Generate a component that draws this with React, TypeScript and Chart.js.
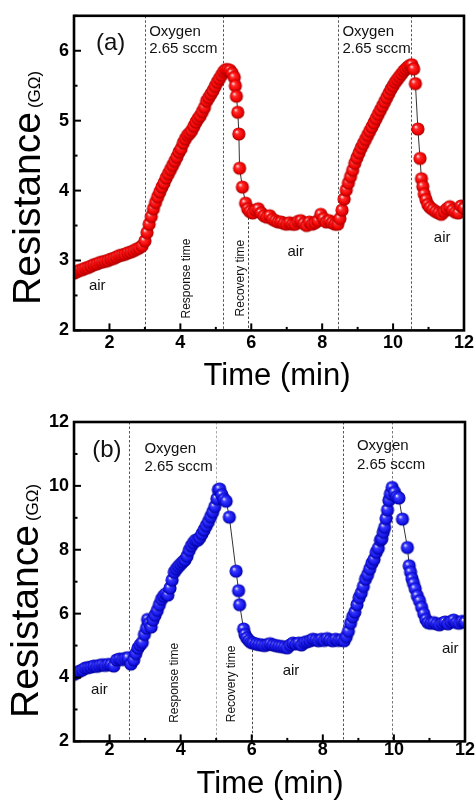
import React, { useEffect, useRef } from 'react';
import { Chart, registerables } from 'chart.js';

Chart.register(...registerables);

const FONT = '"Liberation Sans", Arial, Helvetica, sans-serif';

// ---------- Panel (a) data : time (min) / resistance (GOhm) ----------
const timeA = [
  1.00, 1.08, 1.16, 1.24, 1.32, 1.40, 1.48, 1.56, 1.64, 1.72, 1.80, 1.88, 1.96, 2.04, 2.12, 2.20, 2.28, 2.36, 2.44, 2.52, 2.60, 2.68, 2.76, 2.84, 2.92,
  3.00, 3.06, 3.12, 3.18, 3.24, 3.30, 3.36, 3.42, 3.48, 3.54, 3.60, 3.66, 3.72, 3.78, 3.84, 3.90, 3.96, 4.02, 4.08, 4.14, 4.20, 4.26, 4.32, 4.38, 4.44, 4.50, 4.56, 4.62, 4.68, 4.74, 4.80, 4.86, 4.92, 4.98, 5.04, 5.10, 5.16, 5.22, 5.28, 5.34,
  5.40, 5.46, 5.52, 5.55, 5.58, 5.62, 5.65, 5.67, 5.75, 5.84, 5.90,
  5.96, 6.04, 6.12, 6.20, 6.28, 6.36, 6.44, 6.52, 6.60, 6.68, 6.76, 6.84, 6.92, 7.00, 7.08, 7.16, 7.24, 7.32, 7.40, 7.48, 7.56, 7.64, 7.72, 7.80, 7.88, 7.96, 8.04, 8.12, 8.20, 8.28, 8.36, 8.44,
  8.50, 8.56, 8.62, 8.68, 8.74, 8.80, 8.86, 8.92, 8.98, 9.04, 9.10, 9.16, 9.22, 9.28, 9.34, 9.40, 9.46, 9.52, 9.58, 9.64, 9.70, 9.76, 9.82, 9.88, 9.94, 10.00, 10.06, 10.12, 10.18, 10.24, 10.30, 10.36, 10.42, 10.48, 10.53,
  10.58, 10.63, 10.70, 10.76, 10.80, 10.84, 10.88, 10.93, 10.98,
  11.04, 11.12, 11.20, 11.28, 11.36, 11.44, 11.52, 11.60, 11.68, 11.76, 11.84, 11.92, 12.00,
];
const resistanceA = [
  2.82, 2.84, 2.86, 2.87, 2.89, 2.90, 2.92, 2.94, 2.95, 2.97, 2.98, 2.99, 3.00, 3.02, 3.03, 3.05, 3.07, 3.08, 3.09, 3.11, 3.12, 3.14, 3.16, 3.18, 3.21,
  3.28, 3.40, 3.52, 3.63, 3.74, 3.83, 3.91, 3.98, 4.05, 4.11, 4.18, 4.24, 4.30, 4.36, 4.42, 4.48, 4.55, 4.60, 4.68, 4.74, 4.79, 4.82, 4.86, 4.92, 4.98, 5.03, 5.07, 5.13, 5.19, 5.28, 5.33, 5.38, 5.43, 5.49, 5.55, 5.60, 5.65, 5.70, 5.73, 5.73,
  5.72, 5.68, 5.62, 5.50, 5.35, 5.12, 4.81, 4.32, 4.05, 3.82, 3.74,
  3.70, 3.68, 3.72, 3.74, 3.68, 3.64, 3.62, 3.64, 3.59, 3.57, 3.55, 3.55, 3.53, 3.52, 3.54, 3.52, 3.52, 3.56, 3.57, 3.53, 3.50, 3.55, 3.52, 3.54, 3.57, 3.66, 3.60, 3.55, 3.57, 3.54, 3.52, 3.52,
  3.60, 3.72, 3.88, 4.01, 4.11, 4.20, 4.29, 4.39, 4.47, 4.54, 4.61, 4.67, 4.73, 4.79, 4.85, 4.91, 4.97, 5.03, 5.09, 5.15, 5.21, 5.27, 5.33, 5.39, 5.45, 5.50, 5.55, 5.59, 5.63, 5.67, 5.71, 5.74, 5.77, 5.79, 5.80,
  5.74, 5.53, 4.88, 4.46, 4.17, 4.06, 3.95, 3.87, 3.80,
  3.76, 3.73, 3.70, 3.68, 3.66, 3.70, 3.74, 3.77, 3.72, 3.69, 3.68, 3.78, 3.75,
];

// ---------- Panel (b) data ----------
const timeB = [
  1.00, 1.08, 1.16, 1.24, 1.32, 1.40, 1.48, 1.56, 1.64, 1.72, 1.80, 1.88, 1.96, 2.04, 2.12, 2.20, 2.28, 2.36, 2.44, 2.52, 2.60,
  2.68, 2.74, 2.80, 2.86, 2.92, 2.98, 3.04, 3.07, 3.12, 3.17, 3.22, 3.28, 3.34, 3.40, 3.46, 3.52, 3.58, 3.64, 3.70, 3.76, 3.82, 3.88, 3.94, 4.00, 4.06, 4.12, 4.18, 4.24, 4.30, 4.36, 4.42, 4.48, 4.54, 4.60, 4.66, 4.72, 4.78, 4.84, 4.90, 4.96, 5.02, 5.06, 5.10, 5.16, 5.22, 5.28, 5.37,
  5.56, 5.63, 5.66, 5.77, 5.81, 5.86, 5.92, 5.98,
  6.04, 6.12, 6.20, 6.28, 6.36, 6.44, 6.52, 6.60, 6.68, 6.76, 6.84, 6.92, 7.00, 7.08, 7.16, 7.24, 7.32, 7.40, 7.48, 7.56, 7.64, 7.72, 7.80, 7.88, 7.96, 8.04, 8.12, 8.20, 8.28, 8.36, 8.44, 8.52, 8.60,
  8.66, 8.72, 8.78, 8.84, 8.90, 8.96, 9.02, 9.08, 9.14, 9.20, 9.26, 9.32, 9.38, 9.44, 9.50, 9.56, 9.62, 9.66, 9.70, 9.74, 9.78, 9.82, 9.86, 9.90, 9.95,
  10.02, 10.08, 10.14, 10.24, 10.38, 10.43, 10.47, 10.51, 10.55, 10.60, 10.66, 10.72, 10.78, 10.84, 10.90, 10.96,
  11.04, 11.12, 11.20, 11.28, 11.36, 11.44, 11.52, 11.60, 11.68, 11.76, 11.84, 11.92, 12.00,
];
const resistanceB = [
  4.10, 4.15, 4.20, 4.24, 4.30, 4.31, 4.33, 4.36, 4.35, 4.38, 4.40, 4.38, 4.41, 4.40, 4.36, 4.55, 4.58, 4.56, 4.60, 4.62, 4.42,
  4.55, 4.75, 4.92, 5.02, 5.10, 5.35, 5.55, 5.82, 5.70, 5.58, 5.80, 5.95, 6.10, 6.28, 6.45, 6.55, 6.62, 6.58, 6.80, 7.05, 7.30, 7.40, 7.48, 7.55, 7.62, 7.68, 7.80, 7.98, 8.12, 8.22, 8.30, 8.30, 8.38, 8.50, 8.62, 8.75, 8.88, 9.03, 9.18, 9.35, 9.60, 9.88, 9.90, 9.72, 9.58, 9.52, 9.02,
  7.33, 6.72, 6.28, 5.52, 5.35, 5.24, 5.16, 5.10,
  5.08, 5.05, 5.03, 5.02, 5.00, 5.03, 5.06, 5.02, 5.00, 4.98, 4.97, 4.95, 4.93, 5.02, 5.08, 5.05, 5.08, 5.02, 5.10, 5.12, 5.15, 5.20, 5.18, 5.15, 5.20, 5.16, 5.22, 5.18, 5.15, 5.20, 5.16, 5.18, 5.15,
  5.28, 5.45, 5.70, 5.90, 6.05, 6.28, 6.50, 6.65, 6.85, 7.08, 7.22, 7.40, 7.58, 7.70, 7.92, 8.05, 8.30, 8.35, 8.55, 8.70, 8.98, 9.25, 9.55, 9.75, 9.95,
  9.80, 9.66, 9.62, 8.96, 8.07, 7.50, 7.30, 7.10, 6.95, 6.78, 6.56, 6.40, 6.20, 6.00, 5.82, 5.72,
  5.70, 5.72, 5.68, 5.65, 5.70, 5.74, 5.68, 5.75, 5.80, 5.72, 5.70, 5.76, 5.74,
];

// ---------- Tick labels ----------
const xTickLabels = [2, 4, 6, 8, 10, 12];
const yTickLabelsA = [2, 3, 4, 5, 6];
const yTickLabelsB = [2, 4, 6, 8, 10, 12];

// ---------- Gas switching times (min) ----------
const gasSwitchA = [3.0, 5.2, 8.45, 10.5];
const gasSwitchB = [2.55, 5.0, 8.58, 9.95];
const recoveryEndA = [5.9, 3.68];
const recoveryEndB = [6.0, 4.87];

type Note = { text: string; x: number; y: number; size: number; rot?: boolean };

const notesA: Note[] = [
  { text: '(a)', x: 1.62, y: 6.1, size: 24 },
  { text: 'Oxygen', x: 3.12, y: 6.27, size: 15 },
  { text: '2.65 sccm', x: 3.12, y: 6.02, size: 15 },
  { text: 'Oxygen', x: 8.57, y: 6.27, size: 15 },
  { text: '2.65 sccm', x: 8.57, y: 6.02, size: 15 },
  { text: 'air', x: 1.42, y: 2.64, size: 15 },
  { text: 'Response time', x: 4.18, y: 2.17, size: 12, rot: true },
  { text: 'Recovery time', x: 5.7, y: 2.2, size: 12, rot: true },
  { text: 'air', x: 7.02, y: 3.13, size: 15 },
  { text: 'air', x: 11.15, y: 3.32, size: 15 },
];
const notesB: Note[] = [
  { text: '(b)', x: 1.51, y: 11.12, size: 24 },
  { text: 'Oxygen', x: 2.98, y: 11.17, size: 15 },
  { text: '2.65 sccm', x: 2.98, y: 10.59, size: 15 },
  { text: 'Oxygen', x: 8.96, y: 11.24, size: 15 },
  { text: '2.65 sccm', x: 8.96, y: 10.67, size: 15 },
  { text: 'air', x: 1.48, y: 3.6, size: 15 },
  { text: 'Response time', x: 3.84, y: 2.58, size: 12, rot: true },
  { text: 'Recovery time', x: 5.44, y: 2.6, size: 12, rot: true },
  { text: 'air', x: 6.87, y: 4.2, size: 15 },
  { text: 'air', x: 11.35, y: 4.89, size: 15 },
];

type Spec = {
  times: number[];
  values: number[];
  yMin: number;
  yMax: number;
  yStep: number;
  yLabels: number[];
  switches: number[];
  switchColors: string[];
  recovery: number[];
  notes: Note[];
  colors: [string, string, string, string];
  height: number;
  padding: { left: number; right: number; top: number; bottom: number };
  xTickPad: number;
  yTitle: { x: number; y: number };
  xTitle: { x: number; y: number };
};

function makeSphere(colors: [string, string, string, string]) {
  const size = 16;
  const c = document.createElement('canvas');
  c.width = size;
  c.height = size;
  const g = c.getContext('2d')!;
  const cx = size / 2;
  const cy = size / 2;
  const r = 6.6;
  const grad = g.createRadialGradient(cx - 2.4, cy - 2.4, 0.2, cx, cy, r);
  grad.addColorStop(0, colors[0]);
  grad.addColorStop(0.3, colors[1]);
  grad.addColorStop(0.78, colors[2]);
  grad.addColorStop(1, colors[3]);
  g.fillStyle = grad;
  g.beginPath();
  g.arc(cx, cy, r, 0, Math.PI * 2);
  g.fill();
  return c;
}

function decorPlugin(spec: Spec) {
  return {
    id: 'decor',
    beforeDatasetsDraw(chart: any) {
      const { ctx, chartArea: a, scales } = chart;
      const xs = scales.x;
      const ys = scales.y;
      ctx.save();
      ctx.lineWidth = 1;
      ctx.setLineDash([2.5, 2]);
      spec.switches.forEach((t, i) => {
        const px = Math.round(xs.getPixelForValue(t)) + 0.5;
        ctx.strokeStyle = spec.switchColors[i];
        ctx.beginPath();
        ctx.moveTo(px, a.top);
        ctx.lineTo(px, a.bottom);
        ctx.stroke();
      });
      const rx = Math.round(xs.getPixelForValue(spec.recovery[0])) + 0.5;
      ctx.strokeStyle = '#444';
      ctx.beginPath();
      ctx.moveTo(rx, ys.getPixelForValue(spec.recovery[1]));
      ctx.lineTo(rx, a.bottom);
      ctx.stroke();
      ctx.setLineDash([]);
      ctx.fillStyle = '#111';
      ctx.textAlign = 'left';
      ctx.textBaseline = 'middle';
      spec.notes.forEach((n) => {
        ctx.font = `${n.size}px ${FONT}`;
        const px = xs.getPixelForValue(n.x);
        const py = ys.getPixelForValue(n.y);
        if (n.rot) {
          ctx.save();
          ctx.translate(px, py);
          ctx.rotate(-Math.PI / 2);
          ctx.fillText(n.text, 0, 0);
          ctx.restore();
        } else {
          ctx.fillText(n.text, px, py);
        }
      });
      ctx.restore();
    },
    afterDatasetsDraw(chart: any) {
      const { ctx, chartArea: a, scales } = chart;
      ctx.save();
      ctx.strokeStyle = '#000';
      ctx.lineWidth = 2;
      scales.x.ticks.forEach((t: any) => {
        const px = scales.x.getPixelForValue(t.value);
        const len = t.label ? 7 : 3.5;
        ctx.beginPath();
        ctx.moveTo(px, a.bottom);
        ctx.lineTo(px, a.bottom - len);
        ctx.stroke();
      });
      scales.y.ticks.forEach((t: any) => {
        const py = scales.y.getPixelForValue(t.value);
        const len = t.label ? 7 : 3.5;
        ctx.beginPath();
        ctx.moveTo(a.left, py);
        ctx.lineTo(a.left + len, py);
        ctx.stroke();
      });
      ctx.lineWidth = 2.6;
      ctx.strokeRect(a.left, a.top, a.right - a.left, a.bottom - a.top);
      ctx.restore();
    },
    afterDraw(chart: any) {
      const { ctx } = chart;
      ctx.save();
      ctx.fillStyle = '#000';
      ctx.font = `31px ${FONT}`;
      ctx.textAlign = 'center';
      ctx.textBaseline = 'alphabetic';
      ctx.fillText('Time (min)', spec.xTitle.x, spec.xTitle.y);
      ctx.translate(spec.yTitle.x, spec.yTitle.y);
      ctx.rotate(-Math.PI / 2);
      ctx.textAlign = 'left';
      ctx.font = `39px ${FONT}`;
      ctx.fillText('Resistance', 0, 0);
      const w = ctx.measureText('Resistance').width;
      ctx.font = `17px ${FONT}`;
      ctx.fillText('(G\u03A9)', w + 4, 0);
      ctx.restore();
    },
  };
}

function Panel({ spec }: { spec: Spec }) {
  const ref = useRef<HTMLCanvasElement | null>(null);
  useEffect(() => {
    if (!ref.current) return;
    const sphere = makeSphere(spec.colors);
    const tickFont = { family: FONT, size: 18, weight: 'bold' as const };
    const chart = new Chart(ref.current, {
      type: 'scatter',
      data: {
        datasets: [
          {
            data: spec.times.map((t, i) => ({ x: t, y: spec.values[i] })),
            showLine: true,
            borderColor: '#333',
            borderWidth: 1,
            pointStyle: sphere as any,
            pointRadius: 6.5,
          },
        ],
      },
      options: {
        animation: false,
        responsive: false,
        events: [],
        layout: { padding: spec.padding },
        plugins: { legend: { display: false }, tooltip: { enabled: false } },
        scales: {
          x: {
            type: 'linear',
            min: 1,
            max: 12,
            grid: { display: false, drawTicks: false, tickLength: 0 },
            border: { display: false },
            ticks: {
              stepSize: 1,
              autoSkip: false,
              maxRotation: 0,
              padding: spec.xTickPad,
              color: '#000',
              font: tickFont,
              callback: (v: any) => (xTickLabels.includes(Number(v)) ? String(v) : ''),
            },
          },
          y: {
            type: 'linear',
            min: spec.yMin,
            max: spec.yMax,
            grid: { display: false, drawTicks: false, tickLength: 0 },
            border: { display: false },
            ticks: {
              stepSize: spec.yStep,
              autoSkip: false,
              padding: 5,
              color: '#000',
              font: tickFont,
              callback: (v: any) => (spec.yLabels.includes(Number(v)) ? String(v) : ''),
            },
          },
        },
      },
      plugins: [decorPlugin(spec)],
    });
    return () => chart.destroy();
  }, [spec]);
  return <canvas ref={ref} width={476} height={spec.height} style={{ display: 'block' }} />;
}

const specA: Spec = {
  times: timeA,
  values: resistanceA,
  yMin: 2,
  yMax: 6.5,
  yStep: 0.5,
  yLabels: yTickLabelsA,
  switches: gasSwitchA,
  switchColors: ['#555', '#555', '#555', '#555'],
  recovery: recoveryEndA,
  notes: notesA,
  colors: ['#ffecec', '#ff2a2a', '#ee0000', '#9a0000'],
  height: 400,
  padding: { left: 54, right: 12, top: 14, bottom: 44 },
  xTickPad: 2,
  yTitle: { x: 40, y: 305 },
  xTitle: { x: 277, y: 385 },
};

const specB: Spec = {
  times: timeB,
  values: resistanceB,
  yMin: 2,
  yMax: 12,
  yStep: 1,
  yLabels: yTickLabelsB,
  switches: gasSwitchB,
  switchColors: ['#555', '#aaa', '#555', '#777'],
  recovery: recoveryEndB,
  notes: notesB,
  colors: ['#eeeeff', '#3a3aff', '#1212e6', '#000090'],
  height: 402,
  padding: { left: 44, right: 11, top: 22, bottom: 43 },
  xTickPad: -2,
  yTitle: { x: 38, y: 318 },
  xTitle: { x: 270, y: 393 },
};

export default function App() {
  return (
    <div style={{ position: 'absolute', left: 0, top: 0, width: 476, height: 802, background: '#fff' }}>
      <Panel spec={specA} />
      <Panel spec={specB} />
    </div>
  );
}
